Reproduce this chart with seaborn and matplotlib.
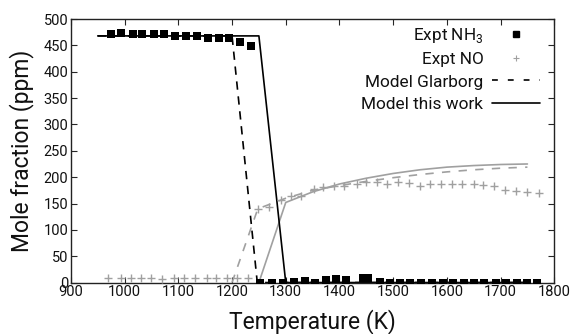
import matplotlib
matplotlib.use("Agg")
import matplotlib.pyplot as plt
from matplotlib.lines import Line2D
import seaborn as sns
import pandas as pd

# Experimental NH3 (ppm)
nh3_T = [974, 994, 1015, 1033, 1054, 1073, 1093, 1114, 1134, 1156, 1176, 1195, 1214, 1235,
         1252, 1274, 1294, 1315, 1335, 1355, 1375, 1394, 1413, 1443, 1453, 1476, 1494, 1513,
         1532, 1552, 1572, 1593, 1612, 1631, 1651, 1670, 1691, 1710, 1730, 1749, 1768]
nh3_ppm = [472, 474, 471, 471, 471, 471, 467, 467, 467, 464, 464, 464, 456, 449,
           0, 0, 0, 1, 3, 0, 4, 6, 5, 8, 8, 2, 0, 0,
           0, 0, 0, 0, 0, 0, 0, 0, 0, 0, 0, 0, 0]

# Experimental NO (ppm)
no_T = [969, 993, 1011, 1030, 1050, 1070, 1091, 1111, 1131, 1153, 1171, 1191, 1210, 1230,
        1248, 1269, 1291, 1310, 1329, 1353, 1369, 1390, 1409, 1432, 1450, 1470, 1489, 1509,
        1530, 1550, 1569, 1589, 1609, 1629, 1650, 1668, 1688, 1708, 1729, 1750, 1771]
no_ppm = [9, 9, 9, 9, 8, 7, 9, 9, 9, 8, 9, 9, 9, 9,
          140, 144, 157, 164, 164, 177, 181, 183, 184, 187, 190, 190, 187, 190,
          189, 183, 187, 187, 187, 187, 187, 185, 183, 176, 173, 171, 170]

# Model predictions, NH3
mod_nh3_T = [950, 1250, 1300, 1750]
mod_nh3_ppm = [468, 468, 0, 0]
glar_nh3_T = [950, 1200, 1247, 1750]
glar_nh3_ppm = [468, 468, 0, 0]

# Model predictions, NO
mod_no_T = [1250, 1300, 1350, 1400, 1450, 1500, 1550, 1600, 1650, 1700, 1750]
mod_no_ppm = [0, 152, 172, 187, 198, 207, 214, 219, 222, 224, 225]
glar_no_T = [1200, 1248, 1300, 1350, 1400, 1450, 1500, 1550, 1600, 1650, 1700, 1750]
glar_no_ppm = [0, 140, 160, 175, 184, 192, 199, 205, 210, 214, 217, 219]

sns.set_theme(style="ticks")
plt.rcParams["font.family"] = ["Roboto", "DejaVu Sans"]
plt.rcParams["mathtext.fontset"] = "custom"
plt.rcParams["mathtext.rm"] = "Roboto"
plt.rcParams["text.color"] = "#111111"
plt.rcParams["axes.labelcolor"] = "#111111"

GRAY = "#a0a0a0"

fig = plt.figure(figsize=(5.72, 3.34), dpi=100)
ax = fig.add_axes([0.124, 0.154, 0.845, 0.789])

df_mod_no = pd.DataFrame({"T": mod_no_T, "ppm": mod_no_ppm})
df_glar_no = pd.DataFrame({"T": glar_no_T, "ppm": glar_no_ppm})
df_mod_nh3 = pd.DataFrame({"T": mod_nh3_T, "ppm": mod_nh3_ppm})
df_glar_nh3 = pd.DataFrame({"T": glar_nh3_T, "ppm": glar_nh3_ppm})

sns.lineplot(data=df_glar_no, x="T", y="ppm", ax=ax, color=GRAY, lw=1.2,
             sort=False, estimator=None, linestyle=(0, (5, 5)))
sns.lineplot(data=df_mod_no, x="T", y="ppm", ax=ax, color=GRAY, lw=1.2,
             sort=False, estimator=None)
sns.lineplot(data=df_glar_nh3, x="T", y="ppm", ax=ax, color="black", lw=1.2,
             sort=False, estimator=None, linestyle=(0, (5, 4)))
sns.lineplot(data=df_mod_nh3, x="T", y="ppm", ax=ax, color="black", lw=1.2,
             sort=False, estimator=None)

sns.scatterplot(x=no_T, y=no_ppm, ax=ax, marker="+", s=30, color=GRAY,
                linewidth=1.0, zorder=3)
sns.scatterplot(x=nh3_T, y=nh3_ppm, ax=ax, marker="s", s=28, color="black",
                linewidth=0, zorder=4)

ax.set_xlim(900, 1800)
ax.set_ylim(0, 500)
ax.set_xticks(range(900, 1801, 100))
ax.set_yticks(range(0, 501, 50))
ax.tick_params(direction="in", top=True, right=True, labelsize=10.5,
               length=4, width=0.8, pad=2, labelcolor="#111111")
for s in ax.spines.values():
    s.set_linewidth(1.0)
    s.set_color("#222222")

ax.set_xlabel("Temperature (K)", fontsize=16.5, labelpad=7)
ax.set_ylabel("Mole fraction (ppm)", fontsize=16.5, labelpad=7)

handles = [
    Line2D([], [], marker="s", color="black", linestyle="none", markersize=5),
    Line2D([], [], marker="+", color=GRAY, linestyle="none", markersize=5, mew=0.8),
    Line2D([], [], color="black", lw=1.2, linestyle=(0, (3.5, 6))),
    Line2D([], [], color="black", lw=1.2),
]
labels = ["Expt NH$_3$", "Expt NO", "Model Glarborg", "Model this work"]
ax.legend(handles, labels, loc="upper right", frameon=False, markerfirst=False,
          fontsize=12.4, handlelength=2.8, labelspacing=0.42, borderaxespad=0.0,
          handletextpad=0.5, bbox_to_anchor=(0.985, 1.0))

fig.savefig("out.png", dpi=100)
